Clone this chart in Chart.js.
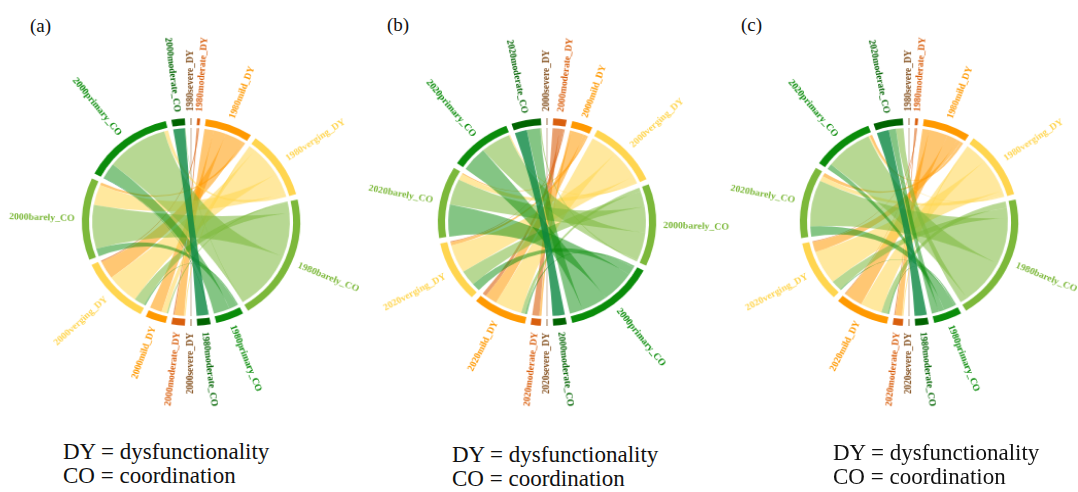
<!DOCTYPE html>
<html>
<head>
<meta charset="utf-8">
<script src="https://cdn.jsdelivr.net/npm/chart.js@4.4.0/dist/chart.umd.min.js"></script>
<style>
  body { margin: 0; width: 1078px; height: 492px; background: #fff; position: relative; overflow: hidden; font-family: "Liberation Serif", serif; }
  .panel { position: absolute; top: 7px; width: 380px; height: 430px; }
  .panel canvas { transform: scale(1.03, 0.98); }
  .tag { position: absolute; font-size: 19px; line-height: 1; color: #111; }
  .note { position: absolute; font-size: 23px; line-height: 24px; color: #111; white-space: nowrap; }
</style>
</head>
<body>
<div class="tag" style="left:30px;top:16px">(a)</div>
<div class="tag" style="left:387px;top:15px">(b)</div>
<div class="tag" style="left:741px;top:15px">(c)</div>

<div class="panel" style="left:1px"><canvas id="chordA" width="380" height="430"></canvas></div>
<div class="panel" style="left:357px"><canvas id="chordB" width="380" height="430"></canvas></div>
<div class="panel" style="left:719px"><canvas id="chordC" width="380" height="430"></canvas></div>

<div class="note" style="left:63px;top:440px">DY = dysfunctionality<br>CO = coordination</div>
<div class="note" style="left:452px;top:443px">DY = dysfunctionality<br>CO = coordination</div>
<div class="note" style="left:833px;top:441px">DY = dysfunctionality<br>CO = coordination</div>

<script>
// classes, same order on both halves of each circle
const classes = ['severe_DY', 'moderate_DY', 'mild_DY', 'verging_DY', 'barely_CO', 'primary_CO', 'moderate_CO'];

// rows = earlier year (right half), columns = later year (left half), share in %
const flows1980to2000 = [
  [0.3, 0,   0,   0,   0,   0,    0  ],
  [0,   0.5, 0,   0.5, 0,   0,    0  ],
  [0,   3.5, 4.5, 7,   1,   0,    0  ],
  [0,   0.5, 2,   12,  8,   1.5,  0  ],
  [0,   0,   0.5, 4,   17,  23,   0.2],
  [0,   0,   0,   0.5, 3,   6,    0  ],
  [0,   0,   0,   0,   0,   0.2,  4.3]
];
const flows2000to2020 = [
  [0.3, 0,   0,   0,   0,    0,   0  ],
  [0,   2.6, 1.5, 0.4, 0,    0,   0  ],
  [0,   0.8, 4.5, 1.2, 0.5,  0,   0  ],
  [0,   0,   10,  11,  2.5,  0.5, 0  ],
  [0,   0,   1.5, 6,   10,   11,  0.5],
  [0,   0,   0.7, 3.1, 12.4, 9.6, 4.9],
  [0,   0,   0,   0,   0,    0,   4.5]
];
const flows1980to2020 = [
  [0.3, 0,   0,   0,   0,   0,    0  ],
  [0,   0.4, 0.3, 0.3, 0,   0,    0  ],
  [0,   2.5, 7,   4,   1.5, 1,    0  ],
  [0,   0.5, 8,   13,  2,   0.5,  0  ],
  [0,   0,   2.4, 4,   18,  17.5, 2.8],
  [0,   0,   0.5, 0.4, 3.9, 2.1,  2.6],
  [0,   0,   0,   0,   0,   0,    4.5]
];

const arcColors = ['#8b5a2b', '#d95f0e', '#ff9900', '#ffd54f', '#7cb83a', '#0a8c0a', '#006400'];
const ribbonColors = [
  'rgba(139,90,43,0.6)', 'rgba(217,95,14,0.6)', 'rgba(255,153,0,0.55)', 'rgba(255,213,79,0.55)',
  'rgba(124,184,58,0.55)', 'rgba(10,140,10,0.5)', 'rgba(10,135,65,0.8)'
];
const GAP_DEG = 3;

const chordPlugin = {
  id: 'chord',
  afterDatasetsDraw(chart, args, opts) {
    const ctx = chart.ctx;
    const arcs = chart.getDatasetMeta(0).data;
    const n = classes.length;
    const flows = opts.flows;
    const p0 = arcs[0].getProps(['x', 'y', 'innerRadius'], true);
    const cx = p0.x, cy = p0.y, r = p0.innerRadius - 3;
    const rowSums = flows.map(row => row.reduce((a, b) => a + b, 0));
    const colSums = classes.map((c, j) => flows.reduce((a, row) => a + row[j], 0));

    // sub-arcs inside every sector
    const rowSeg = flows.map(() => []), colSeg = flows.map(() => []);
    for (let i = 0; i < n; i++) {
      const el = arcs[2 * i].getProps(['startAngle', 'endAngle'], true);
      const k = (el.endAngle - el.startAngle) / rowSums[i];
      let a = el.startAngle;
      for (let j = 0; j < n; j++) {
        rowSeg[i][j] = [a, a + flows[i][j] * k];
        a += flows[i][j] * k;
      }
    }
    for (let j = 0; j < n; j++) {
      const el = arcs[2 * (n + j)].getProps(['startAngle', 'endAngle'], true);
      const k = (el.endAngle - el.startAngle) / colSums[j];
      let b = el.startAngle;
      for (let i = n - 1; i >= 0; i--) {
        colSeg[i][j] = [b, b + flows[i][j] * k];
        b += flows[i][j] * k;
      }
    }

    ctx.save();
    for (let i = 0; i < n; i++) {
      for (let j = 0; j < n; j++) {
        if (!flows[i][j]) continue;
        const [a0, a1] = rowSeg[i][j];
        const [b0, b1] = colSeg[i][j];
        ctx.beginPath();
        ctx.arc(cx, cy, r, a0, a1);
        ctx.quadraticCurveTo(cx, cy, cx + r * Math.cos(b0), cy + r * Math.sin(b0));
        ctx.arc(cx, cy, r, b0, b1);
        ctx.quadraticCurveTo(cx, cy, cx + r * Math.cos(a0), cy + r * Math.sin(a0));
        ctx.closePath();
        ctx.fillStyle = ribbonColors[i];
        ctx.fill();
      }
    }
    ctx.restore();
  },
  afterDraw(chart) {
    // radial sector labels
    const ctx = chart.ctx;
    const arcs = chart.getDatasetMeta(0).data;
    ctx.save();
    ctx.font = 'bold 9.5px "Liberation Serif", serif';
    ctx.textBaseline = 'middle';
    arcs.forEach((el, idx) => {
      if (idx % 2) return;
      const p = el.getProps(['x', 'y', 'startAngle', 'endAngle', 'outerRadius'], true);
      const mid = (p.startAngle + p.endAngle) / 2;
      const rr = p.outerRadius + 7;
      const compass = ((mid + Math.PI / 2) % (2 * Math.PI) + 2 * Math.PI) % (2 * Math.PI);
      ctx.save();
      ctx.translate(p.x + rr * Math.cos(mid), p.y + rr * Math.sin(mid));
      if (compass < Math.PI - 0.01) {
        ctx.rotate(mid);
        ctx.textAlign = 'left';
      } else {
        ctx.rotate(mid + Math.PI);
        ctx.textAlign = 'right';
      }
      ctx.fillStyle = arcColors[(idx / 2) % classes.length];
      ctx.fillText(chart.data.labels[idx], 0, 0);
      ctx.restore();
    });
    ctx.restore();
  }
};

function buildChord(id, fromYear, toYear, flows) {
  const rowSums = flows.map(row => row.reduce((a, b) => a + b, 0));
  const colSums = classes.map((c, j) => flows.reduce((a, row) => a + row[j], 0));
  const total = rowSums.concat(colSums).reduce((a, b) => a + b, 0);
  const gap = total * GAP_DEG / (360 - 2 * classes.length * GAP_DEG);
  const labels = [], values = [], colors = [];
  rowSums.forEach((v, i) => {
    labels.push(fromYear + classes[i], '');
    values.push(v, gap);
    colors.push(arcColors[i], 'rgba(0,0,0,0)');
  });
  colSums.forEach((v, j) => {
    labels.push(toYear + classes[j], '');
    values.push(v, gap);
    colors.push(arcColors[j], 'rgba(0,0,0,0)');
  });
  const degPerUnit = (360 - 2 * classes.length * GAP_DEG) / total;

  return new Chart(document.getElementById(id), {
    type: 'doughnut',
    data: {
      labels: labels,
      datasets: [{ data: values, backgroundColor: colors, borderWidth: 0, hoverOffset: 0, offset: 0 }]
    },
    options: {
      responsive: false,
      animation: false,
      events: [],
      radius: 106,
      cutout: '93.4%',
      rotation: -rowSums[0] * degPerUnit / 2,
      plugins: {
        legend: { display: false },
        tooltip: { enabled: false },
        chord: { flows: flows }
      }
    },
    plugins: [chordPlugin]
  });
}

buildChord('chordA', '1980', '2000', flows1980to2000);
buildChord('chordB', '2000', '2020', flows2000to2020);
buildChord('chordC', '1980', '2020', flows1980to2020);
</script>
</body>
</html>
